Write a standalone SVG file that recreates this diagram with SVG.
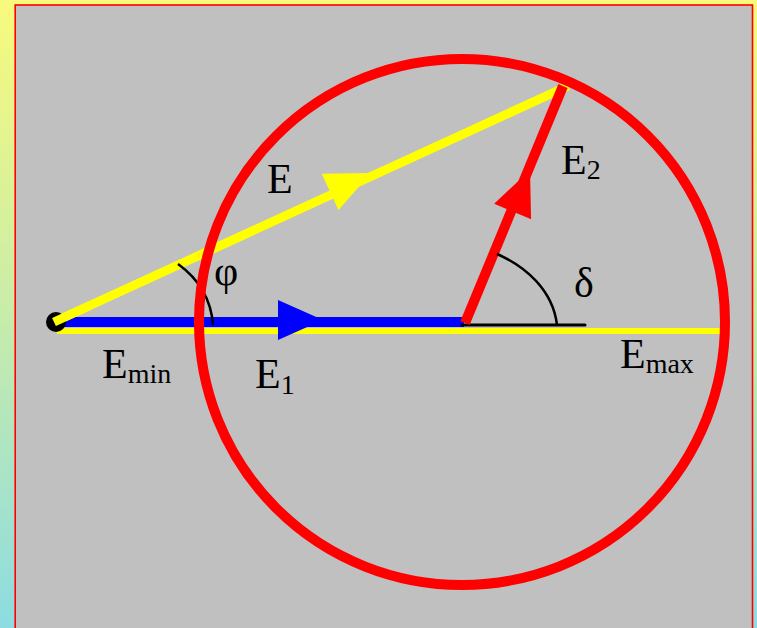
<svg xmlns="http://www.w3.org/2000/svg" width="757" height="628" viewBox="0 0 757 628">
  <defs>
    <linearGradient id="bg" x1="0" y1="0" x2="0" y2="1">
      <stop offset="0" stop-color="#f8fa7c"/>
      <stop offset="0.5" stop-color="#c8ecaa"/>
      <stop offset="1" stop-color="#8cdce2"/>
    </linearGradient>
    <path id="arrowhead" d="M0,0 L-45,-20 L-45,20 Z"/>
    <style>
      .lbl { font-family: "Liberation Serif", "Times New Roman", serif; font-size: 42px; fill: #000; }
      .sub { font-size: 28px; }
      .vec { fill: none; stroke-linecap: butt; }
      .arc { fill: none; stroke: #000; stroke-width: 2.5; }
    </style>
  </defs>

  <rect x="0" y="0" width="757" height="628" fill="url(#bg)"/>
  <rect x="15.2" y="5" width="737.3" height="640" fill="#c0c0c0" stroke="#ff0000" stroke-width="1.6"/>

  <g id="connectors">
    <line id="emax-line" class="vec" x1="57" y1="331" x2="728" y2="331" stroke="#ffff00" stroke-width="6"/>
    <line id="e1-line" class="vec" x1="57" y1="322" x2="464" y2="322" stroke="#0000ff" stroke-width="10"/>
    <use href="#arrowhead" transform="translate(323,320)" fill="#0000ff"/>
    <line x1="462" y1="325" x2="585" y2="325" stroke="#000" stroke-width="3" stroke-linecap="round"/>
    <line id="e-line" class="vec" x1="54" y1="322" x2="568" y2="86" stroke="#ffff00" stroke-width="9"/>
    <use href="#arrowhead" transform="translate(371,173) rotate(-24.7)" fill="#ffff00"/>
    <line id="e2-line" class="vec" x1="465" y1="323" x2="563" y2="86" stroke="#ff0000" stroke-width="10"/>
    <use href="#arrowhead" transform="translate(530,170) rotate(-67.3)" fill="#ff0000"/>
    <path class="arc" d="M178,264 C196,277 211,297 213,325"/>
    <path class="arc" d="M497,254 C525,266 553,290 557,325"/>
  </g>

  <g id="origin">
    <circle cx="56" cy="322" r="10" fill="#000"/>
    <line x1="54" y1="322" x2="90" y2="305.5" stroke="#ffff00" stroke-width="9"/>
  </g>

  <g id="circle">
    <circle cx="462" cy="322" r="263" fill="none" stroke="#ff0000" stroke-width="10"/>
  </g>

  <g id="labels">
    <text class="lbl" x="267" y="193">E</text>
    <text class="lbl" x="214" y="285">φ</text>
    <text class="lbl" x="102" y="378">E<tspan class="sub" dy="5">min</tspan></text>
    <text class="lbl" x="255" y="388">E<tspan class="sub" dy="6">1</tspan></text>
    <text class="lbl" x="561" y="174">E<tspan class="sub" dy="5">2</tspan></text>
    <text class="lbl" x="574" y="297">δ</text>
    <text class="lbl" x="620" y="368">E<tspan class="sub" dy="5">max</tspan></text>
  </g>
</svg>
